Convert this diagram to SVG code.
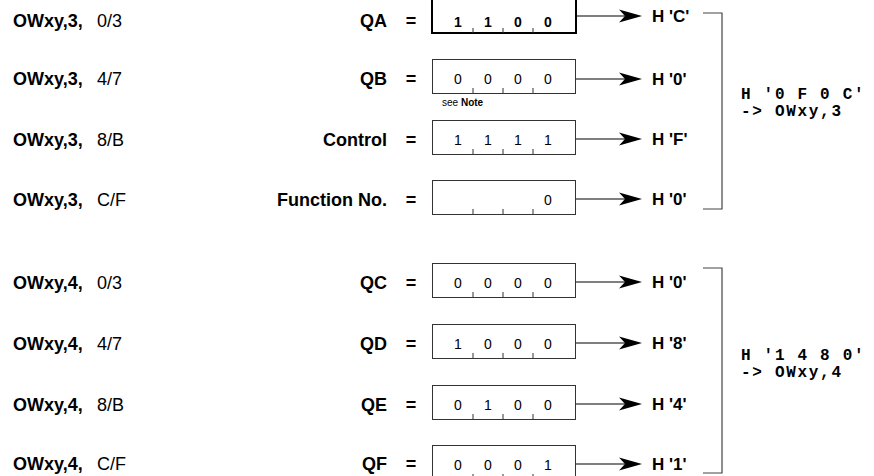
<svg xmlns="http://www.w3.org/2000/svg" width="874" height="476" viewBox="0 0 874 476">
  <style>
    text { font-family: "Liberation Sans", Arial, sans-serif; fill: #000; }
    .addr { font-size: 18px; font-weight: bold; }
    .rng { font-size: 18px; }
    .name { font-size: 18px; font-weight: bold; text-anchor: end; }
    .eq { font-size: 18px; font-weight: bold; text-anchor: middle; }
    .bit { font-size: 14px; text-anchor: middle; }
    .bitb { font-size: 14px; font-weight: bold; text-anchor: middle; }
    .hex { font-size: 17px; font-weight: bold; }
    .sum { font-family: "Liberation Mono", "Courier New", monospace; font-size: 16px; font-weight: bold; letter-spacing: 1.7px; }
    .note { font-size: 10px; }
    .box { fill: #fff; stroke: #333; stroke-width: 1; }
    .boxb { fill: #fff; stroke: #000; stroke-width: 2; }
    .tick { stroke: #333; stroke-width: 1; }
    .wire { stroke: #000; stroke-width: 1.2; fill: none; }
    .head { fill: #000; }
    .brk { stroke: #444; stroke-width: 1.2; fill: none; }
  </style>
  <defs>
    <!-- four-bit field with three bit separators, origin at box top-left -->
    <g id="ticks">
      <line class="tick" x1="41" y1="34" x2="41" y2="29"/>
      <line class="tick" x1="71" y1="34" x2="71" y2="29"/>
      <line class="tick" x1="101" y1="34" x2="101" y2="29"/>
    </g>
    <!-- arrow from box edge to hex value, origin at arrow y on box right edge -->
    <g id="arrow">
      <line class="wire" x1="0" y1="0" x2="50" y2="0"/>
      <path class="head" d="M66,0 L43,-6.5 L49,0 L43,6.5 Z"/>
    </g>
  </defs>

  <!-- word 3 -->
  <g id="row-qa">
    <text class="addr" x="13" y="27">OWxy,3,</text>
    <text class="rng" x="97" y="27">0/3</text>
    <text class="name" x="387" y="27">QA</text>
    <text class="eq" x="411" y="27">=</text>
    <rect class="boxb" x="432" y="-2" width="144" height="35"/>
    <g transform="translate(432,-1)"><use href="#ticks"/></g>
    <text class="bitb" x="458" y="27">1</text>
    <text class="bitb" x="488" y="27">1</text>
    <text class="bitb" x="518" y="27">0</text>
    <text class="bitb" x="548" y="27">0</text>
    <text class="hex" x="652" y="22">H 'C'</text>
  </g>

  <g id="row-qb">
    <text class="addr" x="13" y="85">OWxy,3,</text>
    <text class="rng" x="97" y="85">4/7</text>
    <text class="name" x="387" y="85">QB</text>
    <text class="eq" x="411" y="85">=</text>
    <rect class="box" x="432.5" y="59.5" width="143" height="34"/>
    <g transform="translate(432,59)"><use href="#ticks"/></g>
    <text class="bit" x="458" y="84">0</text>
    <text class="bit" x="488" y="84">0</text>
    <text class="bit" x="518" y="84">0</text>
    <text class="bit" x="548" y="84">0</text>
    <text class="note" x="442" y="106">see <tspan font-weight="bold">Note</tspan></text>
    <text class="hex" x="652" y="85">H '0'</text>
  </g>

  <g id="row-control">
    <text class="addr" x="13" y="146">OWxy,3,</text>
    <text class="rng" x="97" y="146">8/B</text>
    <text class="name" x="387" y="146">Control</text>
    <text class="eq" x="411" y="146">=</text>
    <rect class="box" x="432.5" y="120.5" width="143" height="34"/>
    <g transform="translate(432,120)"><use href="#ticks"/></g>
    <text class="bit" x="458" y="145">1</text>
    <text class="bit" x="488" y="145">1</text>
    <text class="bit" x="518" y="145">1</text>
    <text class="bit" x="548" y="145">1</text>
    <text class="hex" x="652" y="145">H 'F'</text>
  </g>

  <g id="row-function">
    <text class="addr" x="13" y="206">OWxy,3,</text>
    <text class="rng" x="97" y="206">C/F</text>
    <text class="name" x="387" y="206">Function No.</text>
    <text class="eq" x="411" y="206">=</text>
    <rect class="box" x="432.5" y="180.5" width="143" height="34"/>
    <g transform="translate(432,180)"><use href="#ticks"/></g>
    <text class="bit" x="548" y="205">0</text>
    <text class="hex" x="652" y="205">H '0'</text>
  </g>

  <g id="sum-word3">
    <text class="sum" x="741" y="99">H '0 F 0 C'</text>
    <text class="sum" x="741" y="116">-&gt; OWxy,3</text>
  </g>

  <!-- word 4 -->
  <g id="row-qc">
    <text class="addr" x="13" y="289">OWxy,4,</text>
    <text class="rng" x="97" y="289">0/3</text>
    <text class="name" x="387" y="289">QC</text>
    <text class="eq" x="411" y="289">=</text>
    <rect class="box" x="432.5" y="263.5" width="143" height="34"/>
    <g transform="translate(432,263)"><use href="#ticks"/></g>
    <text class="bit" x="458" y="288">0</text>
    <text class="bit" x="488" y="288">0</text>
    <text class="bit" x="518" y="288">0</text>
    <text class="bit" x="548" y="288">0</text>
    <text class="hex" x="652" y="288">H '0'</text>
  </g>

  <g id="row-qd">
    <text class="addr" x="13" y="350">OWxy,4,</text>
    <text class="rng" x="97" y="350">4/7</text>
    <text class="name" x="387" y="350">QD</text>
    <text class="eq" x="411" y="350">=</text>
    <rect class="box" x="432.5" y="324.5" width="143" height="34"/>
    <g transform="translate(432,324)"><use href="#ticks"/></g>
    <text class="bit" x="458" y="349">1</text>
    <text class="bit" x="488" y="349">0</text>
    <text class="bit" x="518" y="349">0</text>
    <text class="bit" x="548" y="349">0</text>
    <text class="hex" x="652" y="349">H '8'</text>
  </g>

  <g id="row-qe">
    <text class="addr" x="13" y="411">OWxy,4,</text>
    <text class="rng" x="97" y="411">8/B</text>
    <text class="name" x="387" y="411">QE</text>
    <text class="eq" x="411" y="411">=</text>
    <rect class="box" x="432.5" y="385.5" width="143" height="34"/>
    <g transform="translate(432,385)"><use href="#ticks"/></g>
    <text class="bit" x="458" y="410">0</text>
    <text class="bit" x="488" y="410">1</text>
    <text class="bit" x="518" y="410">0</text>
    <text class="bit" x="548" y="410">0</text>
    <text class="hex" x="652" y="410">H '4'</text>
  </g>

  <g id="row-qf">
    <text class="addr" x="13" y="470">OWxy,4,</text>
    <text class="rng" x="97" y="470">C/F</text>
    <text class="name" x="387" y="470">QF</text>
    <text class="eq" x="411" y="470">=</text>
    <rect class="box" x="432.5" y="445.5" width="143" height="34"/>
    <g transform="translate(432,445)"><use href="#ticks"/></g>
    <text class="bit" x="458" y="470">0</text>
    <text class="bit" x="488" y="470">0</text>
    <text class="bit" x="518" y="470">0</text>
    <text class="bit" x="548" y="470">1</text>
    <text class="hex" x="652" y="470">H '1'</text>
  </g>

  <g id="sum-word4">
    <text class="sum" x="741" y="360">H '1 4 8 0'</text>
    <text class="sum" x="741" y="377">-&gt; OWxy,4</text>
  </g>

  <!-- connectors: field arrows and group brackets -->
  <g id="connectors">
    <use href="#arrow" x="576" y="16"/>
    <use href="#arrow" x="576" y="79"/>
    <use href="#arrow" x="576" y="139"/>
    <use href="#arrow" x="576" y="199"/>
    <use href="#arrow" x="576" y="282"/>
    <use href="#arrow" x="576" y="343"/>
    <use href="#arrow" x="576" y="404"/>
    <use href="#arrow" x="576" y="464"/>
    <path class="brk" d="M703,13 H722 V209 H703"/>
    <path class="brk" d="M703,268 H722 V473 H703"/>
  </g>
</svg>
